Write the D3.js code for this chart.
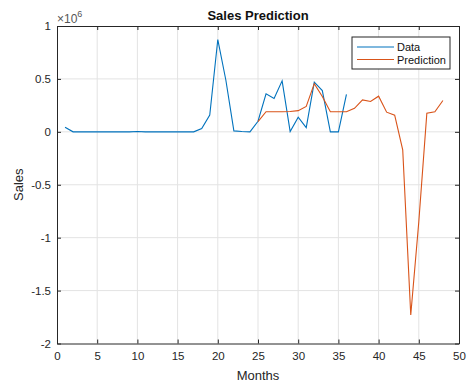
<!DOCTYPE html>
<html>
<head>
<meta charset="utf-8">
<script src="https://cdn.jsdelivr.net/npm/d3@7"></script>
<style>
  body { margin: 0; background: #fff; }
  svg { display: block; font-family: "Liberation Sans", Arial, sans-serif; }
</style>
</head>
<body>
<div id="graph-container"></div>
<script>
// Observed sales (months 1..36)
const dataMonths = d3.range(1, 37);
const dataSales = [
  44000, 0, 0, 0, 0, 0, 0, 0, 0, 3000,
  0, 0, 0, 0, 0, 0, 0, 31000, 158000, 872000,
  490000, 9000, 3000, 0, 100000, 360000, 315000, 482000, 3000, 139000,
  40000, 470000, 390000, 0, 0, 353000
];

// Predicted sales (months 25..48)
const predMonths = d3.range(25, 49);
const predSales = [
  97000, 190000, 190000, 190000, 192000, 200000, 240000, 455000, 334000, 190000,
  190000, 190000, 222000, 302000, 287000, 337000, 186000, 158000, -170000, -1730000,
  -850000, 177000, 190000, 296000
];

const xTicks = d3.range(0, 51, 5);
const yTicks = [-2, -1.5, -1, -0.5, 0, 0.5, 1];

// Chart dimensions and margins
const W = 469, H = 383;
const margin = { top: 26, right: 10, bottom: 39.5, left: 57 };
const width = W - margin.left - margin.right;
const height = H - margin.top - margin.bottom;

const x = d3.scaleLinear().domain([0, 50]).range([0, width]);
const y = d3.scaleLinear().domain([-2e6, 1e6]).range([height, 0]);

const axisColor = "#262626";
const blue = "#0072BD";
const orange = "#D95319";

const svg = d3.select("#graph-container")
  .append("svg")
    .attr("width", W)
    .attr("height", H);

const g = svg.append("g")
  .attr("transform", `translate(${margin.left},${margin.top})`);

// Grid
g.append("g")
  .selectAll("line")
  .data(xTicks.slice(1, -1))
  .join("line")
    .attr("x1", d => x(d)).attr("x2", d => x(d))
    .attr("y1", 0).attr("y2", height)
    .attr("stroke", "#e3e3e3").attr("stroke-width", 1);

g.append("g")
  .selectAll("line")
  .data(yTicks.slice(1, -1))
  .join("line")
    .attr("x1", 0).attr("x2", width)
    .attr("y1", d => y(d * 1e6)).attr("y2", d => y(d * 1e6))
    .attr("stroke", "#e3e3e3").attr("stroke-width", 1);

// Lines
const line = d3.line()
  .x(d => x(d[0]))
  .y(d => y(d[1]));

g.append("path")
  .datum(d3.zip(dataMonths, dataSales))
  .attr("fill", "none")
  .attr("stroke", blue)
  .attr("stroke-width", 1.1)
  .attr("d", line);

g.append("path")
  .datum(d3.zip(predMonths, predSales))
  .attr("fill", "none")
  .attr("stroke", orange)
  .attr("stroke-width", 1.1)
  .attr("d", line);

// Axes (ticks pointing inward, box on)
const tickLen = 4;
const xBottom = g.append("g")
  .attr("transform", `translate(0,${height})`)
  .call(d3.axisBottom(x).tickValues(xTicks).tickSizeInner(-tickLen).tickSizeOuter(0).tickPadding(8));
const xTop = g.append("g")
  .call(d3.axisTop(x).tickValues(xTicks).tickSizeInner(-tickLen).tickSizeOuter(0).tickFormat(""));
const yLeft = g.append("g")
  .call(d3.axisLeft(y).tickValues(yTicks.map(d => d * 1e6)).tickSizeInner(-tickLen).tickSizeOuter(0)
    .tickPadding(6).tickFormat(d => String(d / 1e6)));
const yRight = g.append("g")
  .attr("transform", `translate(${width},0)`)
  .call(d3.axisRight(y).tickValues(yTicks.map(d => d * 1e6)).tickSizeInner(-tickLen).tickSizeOuter(0).tickFormat(""));

[xBottom, xTop, yLeft, yRight].forEach(a => {
  a.select(".domain").attr("stroke", axisColor);
  a.selectAll(".tick line").attr("stroke", axisColor);
  a.selectAll(".tick text")
    .attr("fill", axisColor)
    .style("font-size", "11.5px")
    .style("font-family", "'Liberation Sans', Arial, sans-serif");
});

// Exponent label
const expo = svg.append("text")
  .attr("x", margin.left)
  .attr("y", 23)
  .attr("fill", "#555")
  .style("font-size", "12px");
expo.append("tspan").text("\u00d710");
expo.append("tspan").attr("dy", -6).style("font-size", "9px").text("6");

// Title
svg.append("text")
  .attr("x", margin.left + width / 2)
  .attr("y", 20)
  .attr("text-anchor", "middle")
  .attr("fill", "#111")
  .style("font-size", "13px")
  .style("font-weight", "bold")
  .text("Sales Prediction");

// Axis labels
svg.append("text")
  .attr("x", margin.left + width / 2)
  .attr("y", 380)
  .attr("text-anchor", "middle")
  .attr("fill", axisColor)
  .style("font-size", "13px")
  .text("Months");

svg.append("text")
  .attr("transform", `translate(23,${margin.top + y(-0.5e6)}) rotate(-90)`)
  .attr("text-anchor", "middle")
  .attr("fill", axisColor)
  .style("font-size", "13px")
  .text("Sales");

// Legend
const legend = svg.append("g").attr("transform", "translate(352,37)");
legend.append("rect")
  .attr("width", 98).attr("height", 32)
  .attr("fill", "#fff").attr("stroke", axisColor).attr("stroke-width", 1);
const items = [["Data", blue], ["Prediction", orange]];
items.forEach(([label, color], i) => {
  const yy = 10 + i * 12.5;
  legend.append("line")
    .attr("x1", 5).attr("x2", 42).attr("y1", yy).attr("y2", yy)
    .attr("stroke", color).attr("stroke-width", 1.1);
  legend.append("text")
    .attr("x", 45).attr("y", yy + 4)
    .attr("fill", "#111")
    .style("font-size", "11px")
    .text(label);
});
</script>
</body>
</html>
